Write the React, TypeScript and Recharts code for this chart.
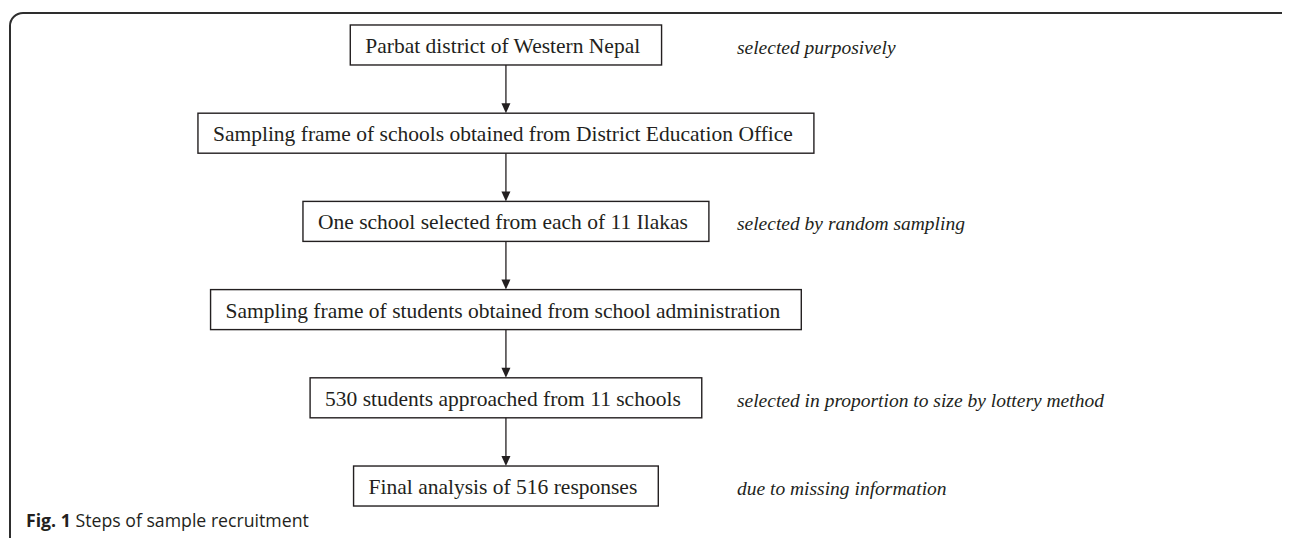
import { ScatterChart, Scatter, XAxis, YAxis } from 'recharts';

// flow steps, top to bottom
const steps = [
  'Parbat district of Western Nepal',
  'Sampling frame of schools obtained from District Education Office',
  'One school selected from each of 11 Ilakas',
  'Sampling frame of students obtained from school administration',
  '530 students approached from 11 schools',
  'Final analysis of 516 responses',
];

// side notes and the step each one belongs to
const noteSteps = [0, 2, 4, 5];
const noteTexts = [
  'selected purposively',
  'selected by random sampling',
  'selected in proportion to size by lottery method',
  'due to missing information',
];

const captionLabel = 'Fig. 1';
const captionText = 'Steps of sample recruitment';

const W = 1290;
const H = 546;
const X_DOMAIN: [number, number] = [-2.19, 3.394];
const Y_DOMAIN: [number, number] = [-0.51, 5.68];
const STEP_PX = H / (Y_DOMAIN[1] - Y_DOMAIN[0]);
const BOX_H = 40;
const PAD_L = 15;
const PAD_R = 21;
const SERIF = '"Liberation Serif", "Times New Roman", serif';
const BOX_FONT_SIZE = 21.5;
const NOTE_FONT_SIZE = 19.5;
const INK = '#231f20';

let ctx: CanvasRenderingContext2D | null = null;
function textWidth(text: string) {
  if (!ctx) ctx = document.createElement('canvas').getContext('2d');
  if (!ctx) return text.length * BOX_FONT_SIZE * 0.42;
  ctx.font = `${BOX_FONT_SIZE}px ${SERIF}`;
  return ctx.measureText(text).width;
}

const boxData = steps.map((label, i) => ({ col: 0, step: i, label, last: i === steps.length - 1 }));
const noteData = noteSteps.map((step, i) => ({ col: 1, step, label: noteTexts[i] }));

function StepBox(props: any) {
  const { cx, cy, payload } = props;
  const w = textWidth(payload.label) + PAD_L + PAD_R;
  const x0 = cx - w / 2;
  const bottom = cy + BOX_H / 2;
  const tip = cy + STEP_PX - BOX_H / 2;
  return (
    <g>
      <rect x={x0} y={cy - BOX_H / 2} width={w} height={BOX_H} fill="#fff" stroke={INK} strokeWidth={1.4} />
      <text x={x0 + PAD_L} y={cy + 8} fontFamily={SERIF} fontSize={BOX_FONT_SIZE} fill={INK}>
        {payload.label}
      </text>
      {!payload.last && (
        <g>
          <line x1={cx} y1={bottom} x2={cx} y2={tip - 9} stroke={INK} strokeWidth={1.3} />
          <path d={`M${cx - 4.5},${tip - 10} L${cx + 4.5},${tip - 10} L${cx},${tip} Z`} fill={INK} />
        </g>
      )}
    </g>
  );
}

function Note(props: any) {
  const { cx, cy, payload } = props;
  return (
    <text x={cx} y={cy + 9} fontFamily={SERIF} fontStyle="italic" fontSize={NOTE_FONT_SIZE} fill={INK}>
      {payload.label}
    </text>
  );
}

export default function App() {
  return (
    <div style={{ position: 'relative', width: W, height: H, margin: -8, overflow: 'hidden', background: '#fff' }}>
      <div
        style={{
          position: 'absolute',
          left: 9,
          top: 12,
          width: 1291,
          height: 600,
          border: '2px solid #2e2e2e',
          borderRadius: 14,
          boxSizing: 'border-box',
        }}
      />
      <div style={{ position: 'absolute', left: 0, top: 0 }}>
        <ScatterChart width={W} height={H} margin={{ top: 0, right: 0, bottom: 0, left: 0 }}>
          <XAxis type="number" dataKey="col" domain={X_DOMAIN} hide />
          <YAxis type="number" dataKey="step" domain={Y_DOMAIN} reversed hide />
          <Scatter data={noteData} shape={<Note />} isAnimationActive={false} />
          <Scatter data={boxData} shape={<StepBox />} isAnimationActive={false} />
        </ScatterChart>
      </div>
      <div
        style={{
          position: 'absolute',
          left: 26,
          top: 508,
          fontFamily: '"Open Sans", "Noto Sans", sans-serif',
          fontSize: 17.7,
          color: INK,
          whiteSpace: 'nowrap',
        }}
      >
        <b>{captionLabel}</b> {captionText}
      </div>
    </div>
  );
}
